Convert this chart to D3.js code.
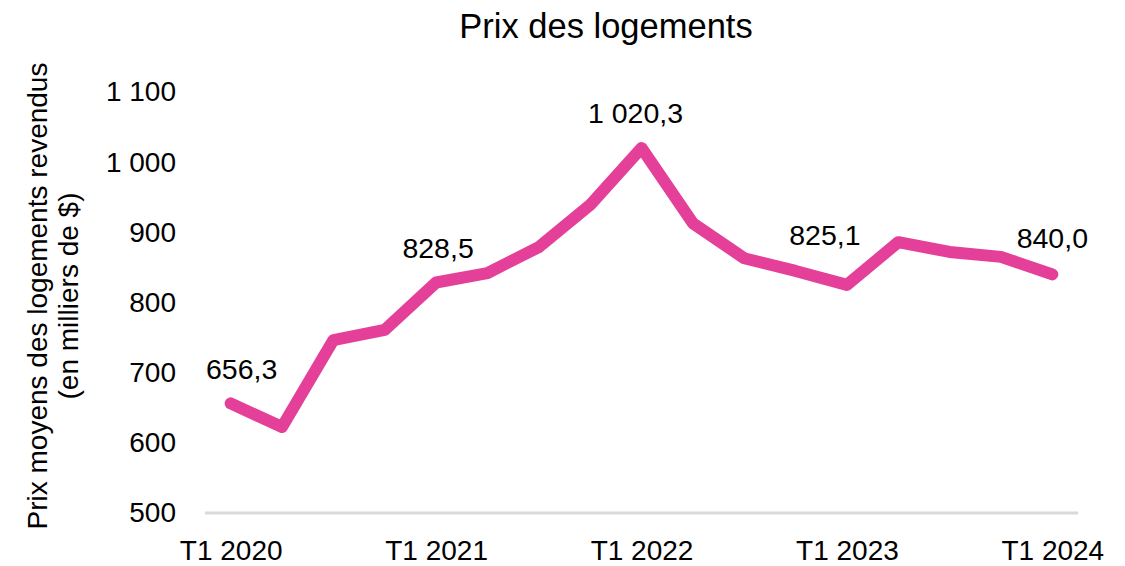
<!DOCTYPE html>
<html>
<head>
<meta charset="utf-8">
<script src="https://cdn.jsdelivr.net/npm/d3@7"></script>
<style>
  html, body { margin: 0; padding: 0; background: #fff; }
  svg { display: block; font-family: "Liberation Sans", Arial, sans-serif; }
</style>
</head>
<body>
<svg id="chart" width="1125" height="566"></svg>
<script>
// ---- Data ----
const quarters = ["T1 2020","T2 2020","T3 2020","T4 2020",
                  "T1 2021","T2 2021","T3 2021","T4 2021",
                  "T1 2022","T2 2022","T3 2022","T4 2022",
                  "T1 2023","T2 2023","T3 2023","T4 2023",
                  "T1 2024"];
const prices = [656.3, 622.5, 746.5, 761.0,
                828.5, 842.0, 879.0, 939.0,
                1020.3, 913.0, 863.0, 845.0,
                825.1, 886.0, 872.0, 865.0,
                840.0];
const xTickLabels = ["T1 2020","T1 2021","T1 2022","T1 2023","T1 2024"];
const yTicks = [500, 600, 700, 800, 900, 1000, 1100];
const labelledQuarters = ["T1 2020","T1 2021","T1 2022","T1 2023","T1 2024"];
const chartTitle = "Prix des logements";
const yTitleLines = ["Prix moyens des logements revendus", "(en milliers de $)"];

// ---- Layout ----
const svg = d3.select("#chart");
const plotLeft = 205, plotRight = 1078, plotTop = 92, plotBottom = 513;

const x = d3.scalePoint().domain(quarters).range([plotLeft, plotRight]).padding(0.5);
const y = d3.scaleLinear().domain([500, 1100]).range([plotBottom, plotTop]);

const frFmt = v => d3.format(",")(v).replace(/,/g, "\u00a0");
const frDec = v => d3.format(",.1f")(v).replace(/,/g, " ").replace(".", ",").replace(/ /g, "\u00a0");

// Title
svg.append("text")
  .attr("x", 606).attr("y", 38)
  .attr("text-anchor", "middle")
  .attr("font-size", 34.5)
  .attr("fill", "#000")
  .text(chartTitle);

// Y axis title
const yt = svg.append("text")
  .attr("transform", "translate(37,296) rotate(-90)")
  .attr("text-anchor", "middle")
  .attr("font-size", 28)
  .attr("fill", "#000");
yTitleLines.forEach((l, i) => {
  yt.append("tspan").attr("x", 0).attr("dy", i === 0 ? "0.35em" : 31).text(l);
});

// Y axis (labels only)
const yAxis = d3.axisLeft(y).tickValues(yTicks).tickSize(0).tickPadding(0).tickFormat(frFmt);
const yg = svg.append("g").attr("transform", "translate(176,0)").call(yAxis);
yg.select(".domain").remove();
yg.selectAll("text").attr("font-size", 28).attr("fill", "#000")
  .attr("font-family", "'Liberation Sans', Arial, sans-serif");

// X axis
const xAxis = d3.axisBottom(x).tickValues(xTickLabels).tickSize(0).tickPadding(0);
const xg = svg.append("g").attr("transform", `translate(0,${plotBottom})`).call(xAxis);
xg.select(".domain").attr("stroke", "#d9d9d9").attr("stroke-width", 3)
  .attr("d", `M${plotLeft},0H${plotRight}`);
xg.selectAll("text").attr("font-size", 28).attr("fill", "#000")
  .attr("font-family", "'Liberation Sans', Arial, sans-serif")
  .attr("dy", null).attr("y", 47);

// Line
const line = d3.line().x((d, i) => x(quarters[i])).y(d => y(d));
svg.append("path")
  .datum(prices)
  .attr("d", line)
  .attr("fill", "none")
  .attr("stroke", "#E4409A")
  .attr("stroke-width", 12)
  .attr("stroke-linecap", "round")
  .attr("stroke-linejoin", "round");

// Data labels
const labelNudge = {"T1 2020": [11, -24], "T1 2021": [2, -25], "T1 2022": [-6, -25], "T1 2023": [-22, -40], "T1 2024": [0, -26]};
labelledQuarters.forEach(q => {
  const i = quarters.indexOf(q);
  const [dx, dy] = labelNudge[q];
  svg.append("text")
    .attr("x", x(q) + dx)
    .attr("y", y(prices[i]) + dy)
    .attr("text-anchor", "middle")
    .attr("font-size", 28.5)
    .attr("fill", "#000")
    .text(frDec(prices[i]));
});
</script>
</body>
</html>
